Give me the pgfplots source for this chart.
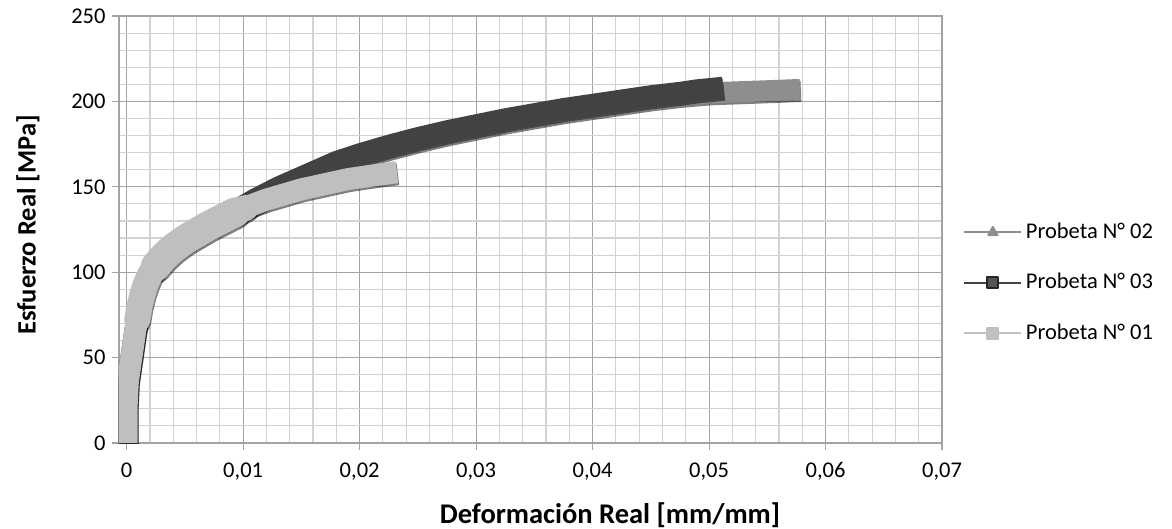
\documentclass[border=0pt]{standalone}
\usepackage{fontspec}
\setmainfont{Carlito}
\usepackage{pgfplots}
\usepackage{pgfplotstable}
\pgfplotsset{compat=1.18}
\definecolor{cA}{HTML}{8E8E8E}
\definecolor{cB}{HTML}{424242}
\definecolor{cC}{HTML}{BFBFBF}
\definecolor{gmaj}{HTML}{A3A3A3}
\definecolor{gmin}{HTML}{D2D2D2}

% Probeta N 01
\pgfplotstableread{
x y
0 0
0 22
0.0001 36
0.0004 50
0.0007 64
0.0011 80
0.0014 88
0.0017 94
0.002 98.5
0.0025 103.5
0.003 107.5
0.0035 111
0.004 114
0.005 119
0.006 123
0.007 127
0.008 130.5
0.009 134
0.010 137
0.011 140
0.012 142.5
0.013 144.5
0.014 146.5
0.015 148.5
0.016 150
0.017 151.5
0.018 153
0.019 154.5
0.020 155.5
0.021 156.5
0.022 157.5
0.0232 158.5
}\dataC
% the wider (more scattered) stretches of Probeta N 01
\pgfplotstableread{
x y
0.0009 72
0.0011 80
0.0014 88
0.0017 94
0.002 98.5
0.0025 103.5
0.003 107.5
0.0035 111
0.004 114
0.005 119
0.006 123
0.007 127
0.008 130.5
0.009 134
0.0102 137.6
}\dataCw
\pgfplotstableread{
x y
0.0025 103.5
0.003 107.5
0.0035 111
0.004 114
0.005 119
0.006 123
0.007 127
0.008 130.5
0.0093 135
}\dataCww

% Probeta N 03
\pgfplotstableread{
x y
0 0
0 22
0.0001 36
0.0004 50
0.0007 64
0.0011 80
0.0014 88
0.0017 94
0.002 98.5
0.0025 103.5
0.003 107.5
0.0035 111
0.004 114
0.005 119
0.006 123
0.007 127
0.008 130.5
0.009 134
0.010 138.5
0.011 142.5
0.012 146
0.013 149.5
0.014 152.5
0.016 158.5
0.018 164.5
0.020 169
0.0225 174
0.025 178.5
0.0275 182.5
0.030 186
0.0325 189.5
0.035 192.5
0.0375 195.5
0.040 198
0.0425 200.5
0.045 203
0.0475 205
0.049 206.5
0.0505 207.5
0.0512 208
}\dataB

% Probeta N 02
\pgfplotstableread{
x y
0 0
0 22
0.0001 36
0.0004 50
0.0007 64
0.0011 80
0.0014 88
0.0017 94
0.002 98.5
0.0025 103.5
0.003 107.5
0.0035 111
0.004 114
0.005 119
0.006 123
0.007 127
0.008 130.5
0.009 134
0.010 136.5
0.012 143.5
0.014 150.5
0.016 156.5
0.018 162.5
0.020 167.5
0.0225 172.5
0.025 177
0.0275 181
0.030 184.5
0.0325 188
0.035 191
0.0375 194
0.040 196.5
0.0425 199
0.045 201.5
0.0475 203.5
0.050 205
0.052 205.5
0.054 206
0.056 206.5
0.0578 207
}\dataA

\begin{document}
\begin{tikzpicture}
\begin{axis}[
  name=ax,
  scale only axis, width=823bp, height=427bp,
  xmin=-0.00066, xmax=0.07, ymin=0, ymax=250,
  xtick={0,0.01,0.02,0.03,0.04,0.05,0.06,0.07},
  ytick={0,50,100,150,200,250},
  scaled x ticks=false,
  minor x tick num=4, minor y tick num=4,
  grid=both,
  major grid style={gmaj, line width=1.1bp},
  minor grid style={gmin, line width=1.1bp},
  axis line style={gmaj, line width=1.1bp},
  tick style={gmaj, line width=1.1bp},
  tick align=outside, major tick length=7bp, minor tick length=0pt,
  tick pos=left,
  /pgf/number format/assume math mode=true,
  /pgf/number format/use comma,
  xticklabel style={/pgf/number format/fixed, /pgf/number format/precision=2, yshift=-9bp},
  yticklabel style={xshift=-3bp},
  tick label style={font=\fontsize{22.5bp}{26bp}\selectfont, text=black},
  xlabel={Deformación Real [mm/mm]},
  ylabel={Esfuerzo Real [MPa]},
  xlabel style={at={(axis description cs:0.5966,-0.1874)}, anchor=base, font=\fontsize{28.5bp}{32bp}\selectfont\bfseries},
  ylabel style={at={(axis description cs:-0.1106,0.5105)}, anchor=center, font=\fontsize{26.5bp}{30bp}\selectfont\bfseries},
  legend style={at={(1.0255,0.375)}, anchor=west, draw=none, fill=none,
    font=\fontsize{22.5bp}{26bp}\selectfont, inner sep=0pt, row sep=32.5bp,
    nodes={inner xsep=0pt, inner ysep=0pt, text height=15bp, text depth=3bp},
    cells={anchor=west}},
  legend image code/.code={\draw[mark repeat=2,mark phase=2,#1] plot coordinates {(0bp,0bp) (28.5bp,0bp) (57bp,0bp)}; \path (60.5bp,0bp);},
  every axis plot/.append style={line cap=butt, line join=round},
  shadow/.style={forget plot, no markers, black, opacity=0.5, xshift=1bp, yshift=-2bp},
]
\addlegendimage{cA, line width=1.8bp, mark=triangle*, mark size=5.5bp, mark options={fill=cA, draw=cA}}
\addlegendentry{Probeta N° 02}
\addlegendimage{cB, line width=2.2bp, mark=square*, mark size=5.5bp, mark options={fill=cB!90!white, draw=black!85}}
\addlegendentry{Probeta N° 03}
\addlegendimage{cC, line width=2.2bp, mark=square*, mark size=5.5bp, mark options={fill=cC, draw=cC}}
\addlegendentry{Probeta N° 01}

% Probeta 02
\addplot[shadow, line width=21bp] table {\dataA};
\addplot[forget plot, no markers, line width=21bp, cA] table {\dataA};
% Probeta 03
\addplot[shadow, line width=22bp] table {\dataB};
\addplot[forget plot, no markers, line width=22bp, cB] table {\dataB};
% Probeta 01
\addplot[shadow, line width=22bp] table {\dataC};
\addplot[shadow, line width=26bp, line cap=round] table {\dataCw};
\addplot[shadow, line width=30bp, line cap=round] table {\dataCww};
\addplot[forget plot, no markers, line width=22bp, cC] table {\dataC};
\addplot[forget plot, no markers, line width=26bp, line cap=round, cC] table {\dataCw};
\addplot[forget plot, no markers, line width=30bp, line cap=round, cC] table {\dataCww};
\end{axis}
\pgfresetboundingbox
\useasboundingbox (-119bp,-86bp) rectangle (1053bp,443bp);
\end{tikzpicture}
\end{document}
